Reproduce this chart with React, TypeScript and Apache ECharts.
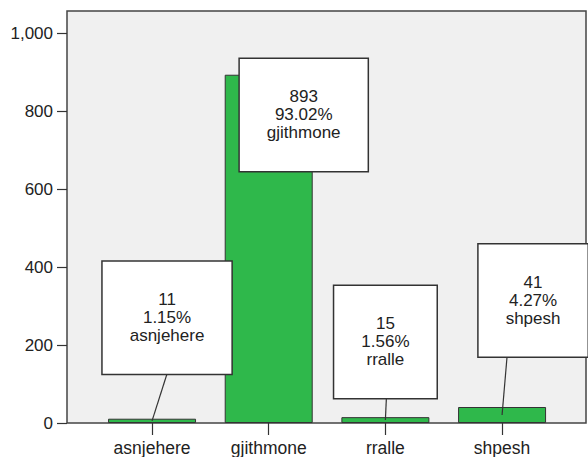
import React, { useEffect, useRef } from "react";
import * as echarts from "echarts";

const categories = ["asnjehere", "gjithmone", "rralle", "shpesh"];
const counts = [11, 893, 15, 41];
const yTicks = { min: 0, max: 1000, interval: 200 };

// callout layout (not data): box centre offset from bar centre (px), box centre height (axis units), leader start offset (px, null = hidden)
const calloutDx = [15, 35, 0, 31];
const calloutY = [270, 790, 208, 314];
const leaderDx: (number | null)[] = [15, null, 1, 5];

const FONT = "'Liberation Sans', Arial, sans-serif";
const TEXT = "#222";
const FONT_SIZE = 17;
const LINE_H = 18;
const PAD_V = 29;
const PAD_H = 27;

export default function App() {
  const ref = useRef<HTMLDivElement>(null);
  useEffect(() => {
    document.body.style.margin = "0";
    const chart = echarts.init(ref.current!, null, { renderer: "svg" });
    const total = counts.reduce((a, b) => a + b, 0);
    const calloutData = counts.map((v, i) => [i, v, ((v / total) * 100).toFixed(2), categories[i]]);
    const option: any = {
      animation: false,
      backgroundColor: "#ffffff",
      grid: [
        {
          left: 67,
          top: 11,
          width: 519,
          height: 412,
          show: true,
          backgroundColor: "#f0f0f0",
          borderColor: "#444",
          borderWidth: 1.5,
        },
        {
          left: 93.7,
          top: 33,
          width: 466.7,
          height: 390,
        },
      ],
      xAxis: [
        {
          type: "category",
          gridIndex: 1,
          data: categories,
          axisLine: { show: false },
          axisTick: { show: true, alignWithLabel: true, length: 12, lineStyle: { color: "#333", width: 1.2 } },
          axisLabel: { color: TEXT, fontSize: 17.5, fontFamily: FONT, margin: 16 },
          splitLine: { show: false },
        },
      ],
      yAxis: [
        {
          type: "value",
          gridIndex: 1,
          position: "left",
          offset: 26.7,
          min: yTicks.min,
          max: yTicks.max,
          interval: yTicks.interval,
          axisLine: { show: false },
          axisTick: { show: true, length: 10, lineStyle: { color: "#333", width: 1.2 } },
          axisLabel: {
            color: TEXT,
            fontSize: 17,
            fontFamily: FONT,
            margin: 14,
            formatter: (v: number) => v.toLocaleString("en-US"),
          },
          splitLine: { show: false },
        },
      ],
      series: [
        {
          type: "bar",
          xAxisIndex: 0,
          yAxisIndex: 0,
          data: counts,
          barWidth: 88,
          itemStyle: { color: "#2fb84b", borderColor: "#333", borderWidth: 1 },
        },
        {
          type: "custom",
          xAxisIndex: 0,
          yAxisIndex: 0,
          data: calloutData,
          z: 5,
          renderItem: (params: any, api: any) => {
            const i = api.value(0);
            const v = api.value(1);
            const idx = params.dataIndex;
            const mid = api.coord([i, v / 2]);
            const boxC = api.coord([i, calloutY[idx]]);
            const bx = mid[0] + calloutDx[idx];
            const boxH = LINE_H * 3 + PAD_V * 2;
            const bottom = boxC[1] + boxH / 2;
            const d = calloutData[idx];
            const children: any[] = [];
            const ld = leaderDx[idx];
            if (ld !== null) {
              children.push({
                type: "line",
                shape: { x1: mid[0] + ld, y1: bottom, x2: mid[0], y2: mid[1] },
                style: { stroke: "#333", lineWidth: 1.2 },
              });
            }
            children.push({
              type: "text",
              x: bx,
              y: boxC[1],
              style: {
                text: `${d[1]}\n${d[2]}%\n${d[3]}`,
                fill: TEXT,
                font: `${FONT_SIZE}px ${FONT}`,
                lineHeight: LINE_H,
                align: "center",
                verticalAlign: "middle",
                backgroundColor: "#ffffff",
                borderColor: "#333",
                borderWidth: 1.5,
                padding: [PAD_V, PAD_H],
              },
            });
            return { type: "group", children };
          },
        },
      ],
    };
    chart.setOption(option);
    return () => chart.dispose();
  }, []);
  return <div ref={ref} style={{ width: 588, height: 457 }} />;
}
